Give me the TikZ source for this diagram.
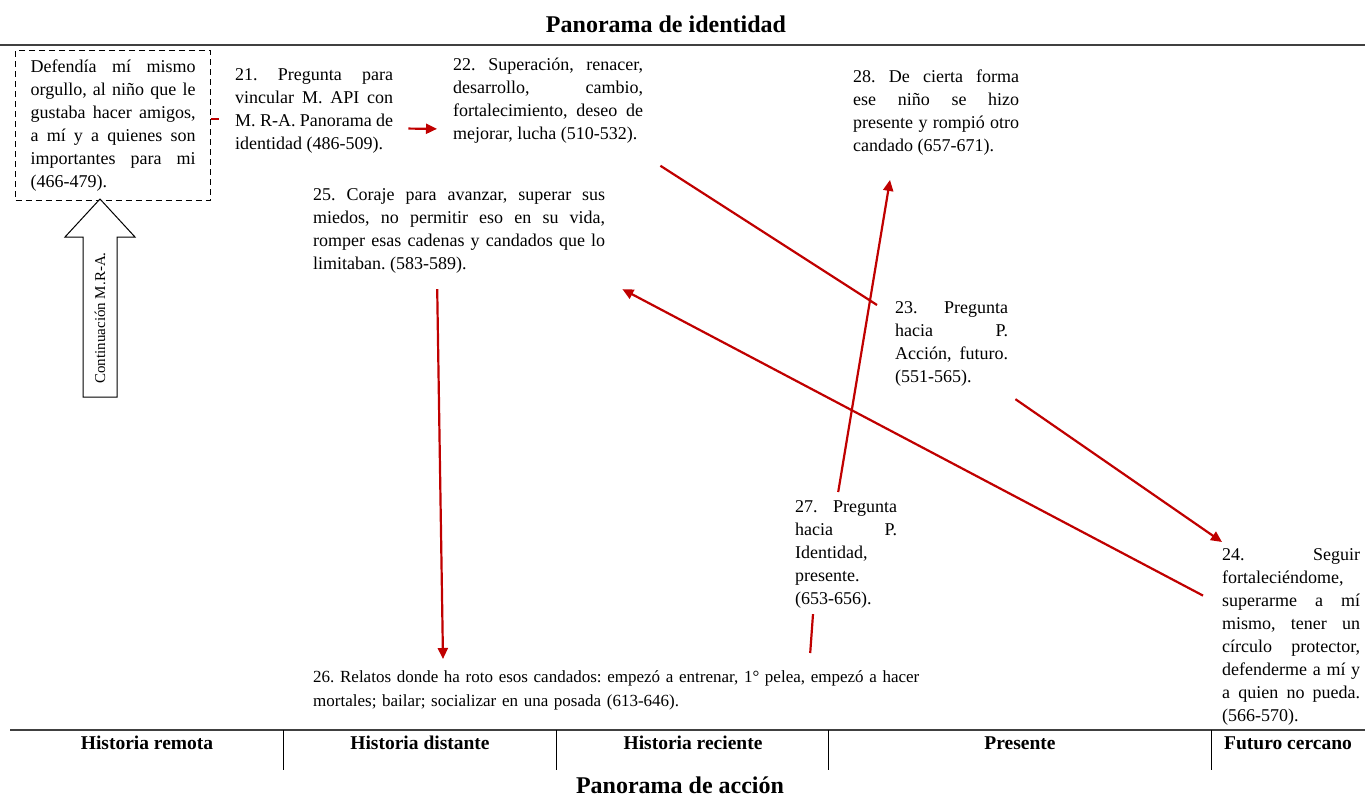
\documentclass[tikz,border=0pt]{standalone}
\usepackage{fontspec}
\setmainfont{Liberation Serif}
\usetikzlibrary{arrows.meta,positioning}
\definecolor{rojo}{RGB}{192,0,0}
\frenchspacing

\begin{document}
\begin{tikzpicture}[x=1pt, y=-1pt,
	txt/.style={anchor=north west, inner sep=0pt, align=justify, font=\fontsize{18}{23}\selectfont},
	col/.style={font=\bfseries\fontsize{19.5}{23}\selectfont},
	tit/.style={font=\bfseries\fontsize{24}{28}\selectfont},
	rline/.style={draw=rojo, line width=2.2pt},
	rarr/.style={rline, -{Triangle[length=11pt,width=10pt]}}]
		\useasboundingbox (0,0) rectangle (1365,796);
		
		% Define nodes
		\node[tit] (pid) at (666,24) {Panorama de identidad};
		\node[tit] (pac) at (680,785) {Panorama de acción};
		\node[txt, draw, dash pattern=on 6pt off 4pt, line width=1.2pt, inner xsep=15pt, inner ysep=9pt, text width=165pt] (box) at (15,50) {Defendía mí mismo\linebreak orgullo, al niño que le\linebreak gustaba hacer amigos,\linebreak a mí y a quienes son\linebreak importantes para mi\linebreak (466-479).};
		\node[txt, text width=158pt] (n21) at (235,68) {21. Pregunta para\linebreak vincular M. API con\linebreak M. R-A. Panorama de\linebreak identidad (486-509).};
		\node[txt, text width=190pt] (n22) at (453,58) {22. Superación, renacer,\linebreak desarrollo, cambio,\linebreak fortalecimiento, deseo de\linebreak mejorar, lucha (510-532).};
		\node[txt, text width=166pt] (n28) at (853,70) {28. De cierta forma\linebreak ese niño se hizo\linebreak presente y rompió otro\linebreak candado (657-671).};
		\node[txt, text width=292pt] (n25) at (313,188) {25. Coraje para avanzar, superar sus\linebreak miedos, no permitir eso en su vida,\linebreak romper esas cadenas y candados que lo\linebreak limitaban. (583-589).};
		\node[txt, text width=113pt] (n23) at (895,301) {23. Pregunta\linebreak hacia P.\linebreak Acción, futuro.\linebreak (551-565).};
		\node[txt, text width=102pt] (n27) at (795,500) {27. Pregunta\linebreak hacia P.\linebreak Identidad,\linebreak presente.\linebreak (653-656).};
		\node[txt, text width=138pt] (n24) at (1222,548) {24. Seguir\linebreak fortaleciéndome,\linebreak superarme a mí\linebreak mismo, tener un\linebreak círculo protector,\linebreak defenderme a mí y\linebreak a quien no pueda.\linebreak (566-570).};
		\node[txt, align=left, text width=620pt, font=\fontsize{17}{24}\selectfont] (n26) at (313,670) {26. Relatos donde ha roto esos candados: empezó a entrenar, 1° pelea, empezó a hacer\\ mortales; bailar; socializar en una posada (613-646).};
		
		% Time line
		\draw[line width=1.8pt, black!75] (0,45) -- (1365,45);
		\draw[line width=2.5pt, black!75] (10,730) -- (1365,730);
		\foreach \x in {283,556,828,1211}
			\draw[line width=0.9pt] (\x,730) -- (\x,770);
		\node[col] (hr) at (147,743) {Historia remota};
		\node[col] (hd) at (420,743) {Historia distante};
		\node[col] (hc) at (693,743) {Historia reciente};
		\node[col] (pr) at (1020,743) {Presente};
		\node[col] (fc) at (1288,743) {Futuro cercano};
		
		% Continuation arrow
		\draw[line width=1pt, fill=white] (83,397) -- (83,237) -- (65,237) -- (100,199) -- (135,237) -- (117,237) -- (117,397) -- cycle;
		\node[rotate=90, font=\fontsize{15}{18}\selectfont] (cont) at (100,318) {Continuación M.R-A.};
		
		% Draw arrows
		\draw[rline] ([shift={(0,-6)}]box.east) -- ++(8,0);
		\draw[rarr] ([shift={(15,18)}]n21.east) -- ([shift={(-16,28)}]n22.west);
		\draw[rline] ([shift={(17,22)}]n22.south east) -- ([shift={(-18,4)}]n23.north west);
		\draw[rarr] ([shift={(7,13)}]n23.south east) -- ([shift={(0,-6)}]n24.north west);
		\draw[rarr] ([shift={(-19,-41)}]n24.west) -- ([shift={(17,16)}]n25.south east);
		\draw[rarr] ([shift={(-22,16)}]n25.south) -- ([shift={(130,-11)}]n26.north west);
		\draw[rline] ([shift={(187,-17)}]n26.north) -- ([shift={(18,6)}]n27.south west);
		\draw[rarr] ([shift={(-8,-8)}]n27.north) -- ([shift={(37,24)}]n28.south west);
	\end{tikzpicture}
\end{document}
